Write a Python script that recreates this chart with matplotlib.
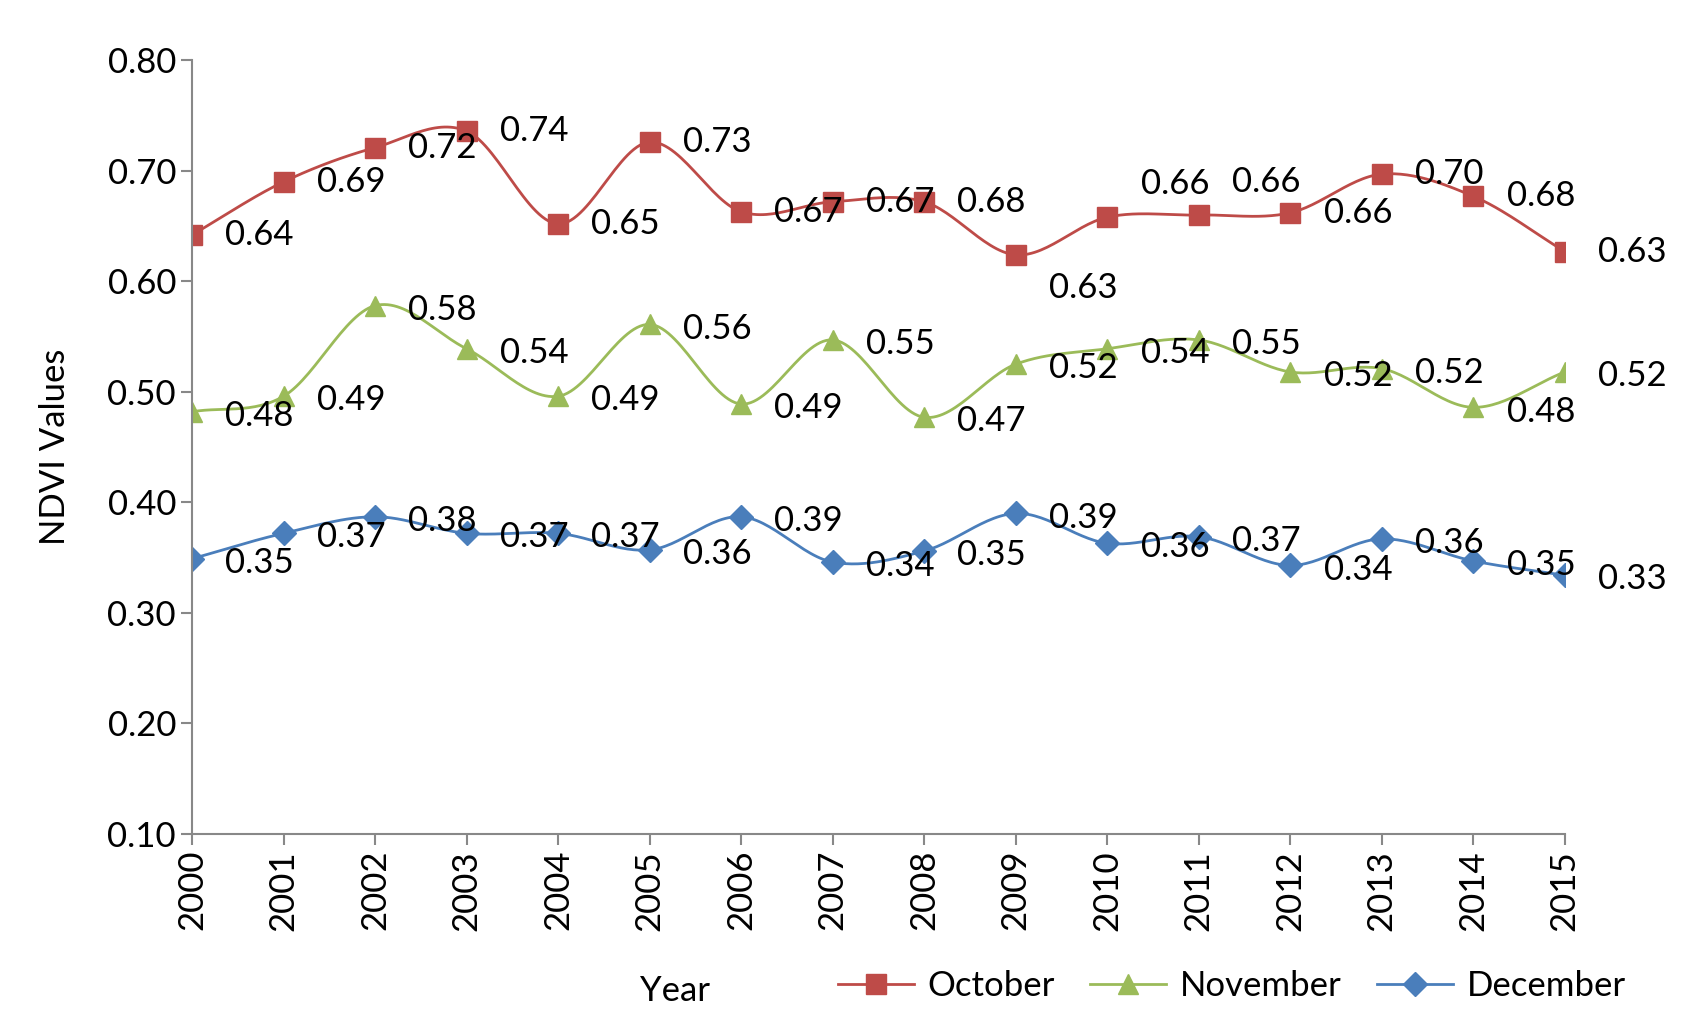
import numpy as np
import matplotlib.pyplot as plt

years = list(range(2000, 2016))
october = [0.642, 0.690, 0.721, 0.736, 0.652, 0.726, 0.663, 0.672, 0.672, 0.624, 0.658, 0.660, 0.662, 0.697, 0.677, 0.627]
november = [0.482, 0.496, 0.578, 0.539, 0.496, 0.561, 0.489, 0.547, 0.477, 0.525, 0.539, 0.547, 0.518, 0.521, 0.486, 0.518]
december = [0.349, 0.372, 0.387, 0.372, 0.372, 0.357, 0.387, 0.346, 0.356, 0.390, 0.363, 0.369, 0.343, 0.367, 0.347, 0.334]
oct_labels = ["0.64", "0.69", "0.72", "0.74", "0.65", "0.73", "0.67", "0.67", "0.68", "0.63", "0.66", "0.66", "0.66", "0.70", "0.68", "0.63"]
nov_labels = ["0.48", "0.49", "0.58", "0.54", "0.49", "0.56", "0.49", "0.55", "0.47", "0.52", "0.54", "0.55", "0.52", "0.52", "0.48", "0.52"]
dec_labels = ["0.35", "0.37", "0.38", "0.37", "0.37", "0.36", "0.39", "0.34", "0.35", "0.39", "0.36", "0.37", "0.34", "0.36", "0.35", "0.33"]

plt.rcParams['font.family'] = ['Lato', 'DejaVu Sans']
FS = 25


def smooth(x, y, n=30):
    # catmull-rom curve through the points, like excel's smoothed line
    x = np.asarray(x, float); y = np.asarray(y, float)
    px = np.concatenate([[2*x[0]-x[1]], x, [2*x[-1]-x[-2]]])
    py = np.concatenate([[2*y[0]-y[1]], y, [2*y[-1]-y[-2]]])
    xs, ys = [], []
    t = np.linspace(0, 1, n)
    for i in range(1, len(px)-2):
        for p, out in ((px, xs), (py, ys)):
            p0, p1, p2, p3 = p[i-1], p[i], p[i+1], p[i+2]
            out.extend(0.5*((2*p1) + (-p0+p2)*t + (2*p0-5*p1+4*p2-p3)*t**2 + (-p0+3*p1-3*p2+p3)*t**3))
    return xs, ys


fig = plt.figure(figsize=(16.99, 10.22), dpi=100)
ax = fig.add_axes([0.113, 0.184, 0.808, 0.757])

series = [(october, oct_labels, '#BE4B48', 's', 'October'),
          (november, nov_labels, '#9BBB59', '^', 'November'),
          (december, dec_labels, '#4A7EBB', 'D', 'December')]
for vals, labs, col, mk, name in series:
    sx, sy = smooth(years, vals)
    ax.plot(sx, sy, color=col, lw=2)
    ax.plot(years, vals, ls='none', marker=mk, color=col, ms=15 if mk != 'D' else 12,
            markeredgecolor=col)
    ax.plot([], [], color=col, lw=2, marker=mk, ms=15 if mk != 'D' else 12, label=name)

oct_dy = [0]*16
oct_dy[9] = -24
oct_dy[10] = 24
oct_dy[11] = 24
for vals, labs, col, mk, name in series:
    for i, (yr, v, lab) in enumerate(zip(years, vals, labs)):
        dy = oct_dy[i] if vals is october else -3
        ax.annotate(lab, (yr, v), xytext=(24, dy), textcoords='offset points',
                    ha='left', va='center', fontsize=FS)

ax.set_xlim(2000, 2015)
ax.set_ylim(0.1, 0.8)
ax.set_yticks(np.arange(0.1, 0.81, 0.1))
ax.set_yticklabels([f"{v:.2f}" for v in np.arange(0.1, 0.81, 0.1)], fontsize=FS)
ax.set_xticks(years)
ax.set_xticklabels([str(y) for y in years], rotation=90, fontsize=FS)
for s in ['top', 'right']:
    ax.spines[s].set_visible(False)
for s in ['left', 'bottom']:
    ax.spines[s].set_color('#888888')
    ax.spines[s].set_linewidth(1.5)
ax.tick_params(direction='out', length=8, color='#888888', width=1.5)
ax.set_ylabel('NDVI Values', fontsize=FS, labelpad=26)

fig.text(0.397, 0.03, 'Year', fontsize=FS, ha='center', va='center')
fig.legend(loc='center', bbox_to_anchor=(0.725, 0.035), ncol=3, frameon=False,
           fontsize=FS, handlelength=2.2, columnspacing=1.0, handletextpad=0.4)

fig.savefig('out.png', dpi=100)
